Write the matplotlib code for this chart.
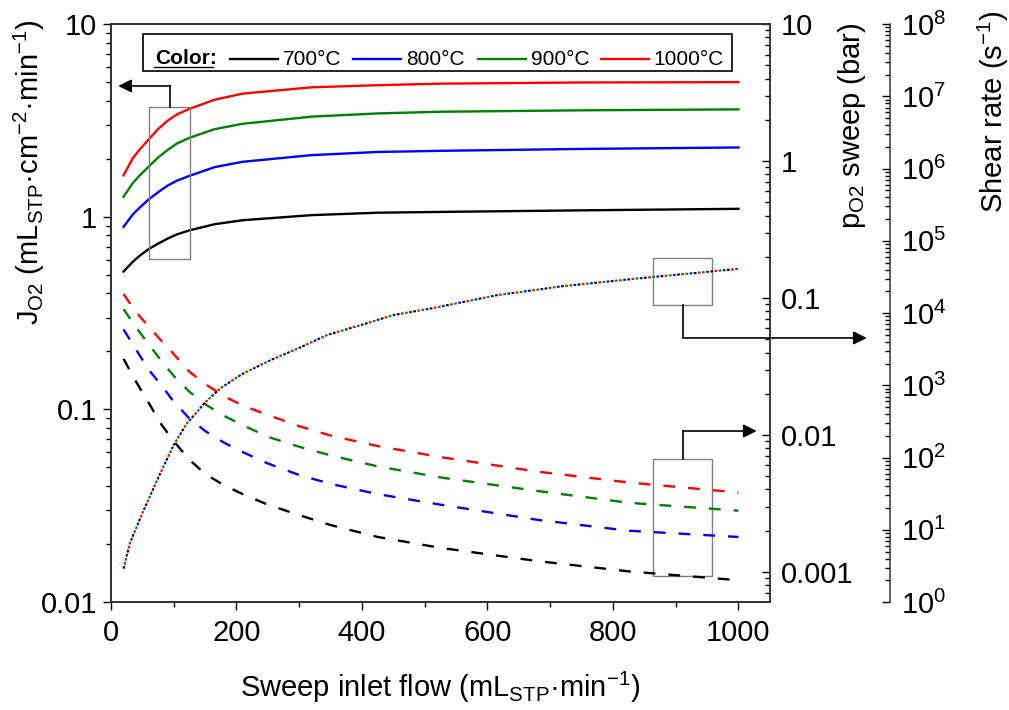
import numpy as np
import matplotlib
matplotlib.use('Agg')
import matplotlib.pyplot as plt
import matplotlib.ticker as mticker
from matplotlib.patches import Rectangle

plt.rcParams['font.family'] = ['Liberation Sans', 'DejaVu Sans']
plt.rcParams['mathtext.fontset'] = 'custom'
plt.rcParams['mathtext.rm'] = 'Liberation Sans'
plt.rcParams['mathtext.it'] = 'Liberation Sans:italic'
plt.rcParams['mathtext.bf'] = 'Liberation Sans:bold'

temps = ['700°C', '800°C', '900°C', '1000°C']
colors = ['black', '#0000ff', '#008000', '#ff0000']

# O2 flux, left axis
flow_j = [20, 35, 45, 60, 75, 90, 105, 125, 165, 210, 320, 425, 525, 750, 1000]
j_700 = [0.52, 0.585, 0.625, 0.68, 0.725, 0.77, 0.81, 0.85, 0.915, 0.96, 1.02, 1.05, 1.06, 1.08, 1.10]
j_800 = [0.887, 1.03, 1.11, 1.23, 1.34, 1.45, 1.54, 1.63, 1.81, 1.93, 2.09, 2.17, 2.20, 2.25, 2.29]
j_900 = [1.27, 1.50, 1.63, 1.82, 2.03, 2.22, 2.40, 2.57, 2.85, 3.04, 3.31, 3.44, 3.51, 3.57, 3.61]
j_1000 = [1.64, 2.02, 2.22, 2.52, 2.85, 3.15, 3.40, 3.63, 4.05, 4.36, 4.70, 4.82, 4.91, 4.98, 5.00]

# pO2 in sweep, dashed, middle axis
flow_p = [20, 40, 60, 80, 100, 125, 150, 180, 210, 250, 300, 350, 425, 525, 680, 825, 1000]
p_700 = [0.036, 0.0245, 0.0172, 0.0120, 0.0090, 0.0066, 0.0052, 0.0043, 0.0037, 0.0031,
         0.0026, 0.0022, 0.0018, 0.0015, 0.0012, 0.00101, 0.00087]
p_800 = [0.059, 0.042, 0.030, 0.0232, 0.0175, 0.0132, 0.0107, 0.0088, 0.0075, 0.0062,
         0.0051, 0.0044, 0.0037, 0.0031, 0.0024, 0.0020, 0.0018]
p_900 = [0.083, 0.061, 0.046, 0.035, 0.027, 0.0207, 0.0168, 0.0138, 0.0118, 0.0097,
         0.0082, 0.0071, 0.0059, 0.0049, 0.0039, 0.0032, 0.0028]
p_1000 = [0.107, 0.079, 0.062, 0.049, 0.039, 0.029, 0.0236, 0.0192, 0.0164, 0.0140,
          0.0116, 0.0099, 0.0083, 0.0069, 0.0054, 0.0045, 0.0038]

# shear rate, dotted, far right axis (same for all temperatures)
flow_s = [20, 30, 50, 75, 100, 120, 150, 175, 210, 255, 300, 345, 400, 450, 510, 615, 720, 840, 1000]
shear = [2.9, 6.5, 17, 52, 150, 290, 580, 920, 1450, 2250, 3300, 5000, 6900, 9400,
         11600, 17700, 23600, 30200, 41000]

j_all = [j_700, j_800, j_900, j_1000]
p_all = [p_700, p_800, p_900, p_1000]

fig = plt.figure(figsize=(10.09, 7.10), dpi=100)
ax = fig.add_axes([0.110, 0.152, 0.653, 0.814])
ax2 = ax.twinx()
ax3 = ax.twinx()
ax3.spines['right'].set_position(('axes', 1.182))

fs = 21
for i in range(4):
    ax.plot(flow_j, j_all[i], color=colors[i], lw=1.7, zorder=3)
    ax2.plot(flow_p, p_all[i], color=colors[i], lw=1.7, linestyle=(0, (5, 5.5)))
    # interleaved short dashes so the four overlapping curves stay visible
    ax3.plot(flow_s, shear, color=colors[i], lw=1.5,
             linestyle=(i * 2.0, (1.3, 6.7)))

ax.set_xlim(0, 1050)
ax.set_yscale('log')
ax.set_ylim(0.01, 10)
ax2.set_yscale('log')
ax2.set_ylim(10 ** -3.22, 10)
ax3.set_yscale('log')
ax3.set_ylim(1, 1e8)

ax.xaxis.set_major_locator(mticker.MultipleLocator(200))
ax.xaxis.set_minor_locator(mticker.MultipleLocator(100))
plain = mticker.FuncFormatter(lambda v, p: f'{v:g}')
ax.yaxis.set_major_formatter(plain)
ax2.yaxis.set_major_formatter(plain)
ax3.yaxis.set_major_locator(mticker.LogLocator(base=10, numticks=20))
ax3.yaxis.set_minor_locator(mticker.LogLocator(base=10, subs=np.arange(2, 10), numticks=20))
ax3.yaxis.set_minor_formatter(mticker.NullFormatter())

ax.tick_params(axis='both', which='major', direction='out', length=6, width=1, labelsize=fs, pad=4)
ax.tick_params(axis='both', which='minor', direction='out', length=3.5, width=1)
ax.tick_params(axis='x', pad=6)
for a in (ax2, ax3):
    a.tick_params(axis='y', which='major', direction='in', length=6, width=1, labelsize=fs, pad=8)
    a.tick_params(axis='y', which='minor', direction='in', length=3.5, width=1)

for a in (ax, ax2, ax3):
    for s in a.spines.values():
        s.set_linewidth(1.1)
        s.set_color('#333333')

ax.set_xlabel(r'Sweep inlet flow (mL$_{\mathrm{STP}}$·min$^{\mathrm{-1}}$)', fontsize=fs)
ax.xaxis.set_label_coords(0.5, -0.118)
ax.set_ylabel(r'J$_{\mathrm{O2}}$ (mL$_{\mathrm{STP}}$·cm$^{\mathrm{-2}}$·min$^{\mathrm{-1}}$)', fontsize=fs)
ax.yaxis.set_label_coords(-0.097, 0.744)
ax2.set_ylabel(r'p$_{\mathrm{O2}}$ sweep (bar)', fontsize=fs)
ax2.yaxis.set_label_coords(1.100, 0.825)
ax3.set_ylabel(r'Shear rate (s$^{\mathrm{-1}}$)', fontsize=fs)
ax3.yaxis.set_label_coords(1.312, 0.848)

# legend box drawn by hand
ax.add_patch(Rectangle((0.0486, 0.919), 0.8934, 0.064, transform=ax.transAxes,
                       fill=False, ec='black', lw=1.2, zorder=5))
ax.text(0.067, 0.941, 'Color:', transform=ax.transAxes, fontsize=15,
        fontweight='bold', va='center', ha='left', zorder=6)
ax.plot([0.066, 0.155], [0.925, 0.925], transform=ax.transAxes,
        color='black', lw=1.0, zorder=6)
leg_x = [0.1806, 0.3672, 0.5569, 0.7436]
for i in range(4):
    ax.plot([leg_x[i], leg_x[i] + 0.073], [0.939, 0.939], transform=ax.transAxes,
            color=colors[i], lw=1.7, zorder=6)
    ax.text(leg_x[i] + 0.080, 0.939, temps[i], transform=ax.transAxes, fontsize=15,
            va='center', ha='left', zorder=6)

# boxes and arrows pointing to each curve set's axis
boxes = [(0.058, 0.593, 0.062, 0.263), (0.822, 0.514, 0.090, 0.081), (0.822, 0.045, 0.090, 0.202)]
for (bx, by, bw, bh) in boxes:
    ax.add_patch(Rectangle((bx, by), bw, bh, transform=ax.transAxes, fill=False,
                           ec='#808080', lw=1.0, zorder=4))

arrows = [[(0.0895, 0.856), (0.0895, 0.893), (0.011, 0.893)],
          [(0.868, 0.514), (0.868, 0.457), (1.147, 0.457)],
          [(0.868, 0.247), (0.868, 0.296), (0.980, 0.296)]]
for pts in arrows:
    ax.plot([pts[0][0], pts[1][0]], [pts[0][1], pts[1][1]], transform=ax.transAxes,
            color='black', lw=1.2, clip_on=False, zorder=6)
    ax.annotate('', xy=pts[2], xytext=pts[1], xycoords='axes fraction',
                textcoords='axes fraction',
                arrowprops=dict(arrowstyle='-|>', color='black', lw=1.2,
                                mutation_scale=20, shrinkA=0, shrinkB=0),
                annotation_clip=False, zorder=6)

fig.savefig('out.png', dpi=100)
